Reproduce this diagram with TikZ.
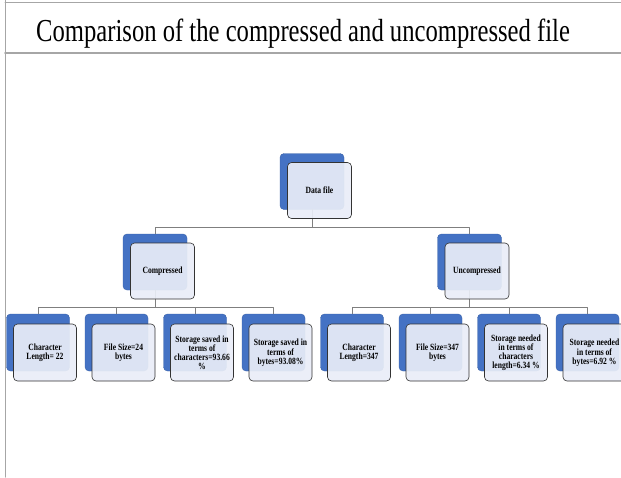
\documentclass[tikz,border=0pt]{standalone}
\usepackage{fontspec}
\setmainfont{Liberation Serif}
\newfontfamily\titlefont[FakeStretch=0.77]{Liberation Serif}
\newfontfamily\boxfont[FakeStretch=0.8]{Liberation Serif}
\usetikzlibrary{calc}
\definecolor{boxblue}{HTML}{4472C4}
\definecolor{boxfill}{HTML}{E9EDF7}
\definecolor{framegray}{HTML}{A6A6A6}
\definecolor{linkgray}{HTML}{7F7F7F}

\begin{document}
\begin{tikzpicture}[line cap=round,line join=round,x=1pt,y=-1pt,
		back/.style={draw=boxblue!85!black,line width=0.4pt,fill=boxblue,rounded corners=4pt,minimum width=64pt,minimum height=56pt,inner sep=0pt},
		front/.style={draw=black!80,line width=0.6pt,fill=boxfill,fill opacity=0.92,text opacity=1,rounded corners=4pt,minimum width=64pt,minimum height=56pt,inner sep=0pt,align=center,font=\boxfont\bfseries\fontsize{9.5}{8.7}\selectfont},
		leaf/.style={minimum width=63pt,minimum height=57pt},
		link/.style={draw=linkgray,line width=0.6pt}]
	\useasboundingbox (0,0) rectangle (621,477);
	\draw[framegray,line width=1pt] (5,0) -- (5,477);
	\draw[framegray,line width=1pt] (5,2) -- (621,2);
	\draw[framegray,line width=1.6pt] (5,53) -- (621,53);
	\node[anchor=base west,inner sep=0pt,font=\titlefont\fontsize{32}{36}\selectfont] (title) at (36,41) {Comparison of the compressed and uncompressed file};
	\node[back] (data-b) at (312,181.5) {};
	\node[back] (comp-b) at (155,262) {};
	\node[back] (unc-b) at (469.5,262) {};
	\foreach \i in {1,...,8}
		\node[back,leaf] (leaf\i-b) at ({38+78.5*(\i-1)},342.5) {};
	\draw[link] (data-b.south) -- ++(0,18) -| (comp-b.north);
	\draw[link] (data-b.south) -- ++(0,18) -| (unc-b.north);
	\foreach \i in {1,...,4}
		\draw[link] (comp-b.south) -- ++(0,17) -| (leaf\i-b.north);
	\foreach \i in {5,...,8}
		\draw[link] (unc-b.south) -- ++(0,17) -| (leaf\i-b.north);
	\node[front] (data) at ($(data-b)+(7.5,9)$) {Data file};
	\node[front] (comp) at ($(comp-b)+(7.5,9)$) {Compressed};
	\node[front] (unc) at ($(unc-b)+(7.5,9)$) {Uncompressed};
	\foreach \i/\txt in {1/{Character\\Length= 22},2/{File Size=24\\bytes},3/{Storage saved in\\terms of\\characters=93.66\\\%},4/{Storage saved in\\terms of\\bytes=93.08\%},5/{Character\\Length=347},6/{File Size=347\\bytes},7/{Storage needed\\in terms of\\characters\\length=6.34 \%},8/{Storage needed\\in terms of\\bytes=6.92 \%}}
		\node[front,leaf] (leaf\i) at ($(leaf\i-b)+(7,10)$) {\txt};
\end{tikzpicture}
\end{document}
